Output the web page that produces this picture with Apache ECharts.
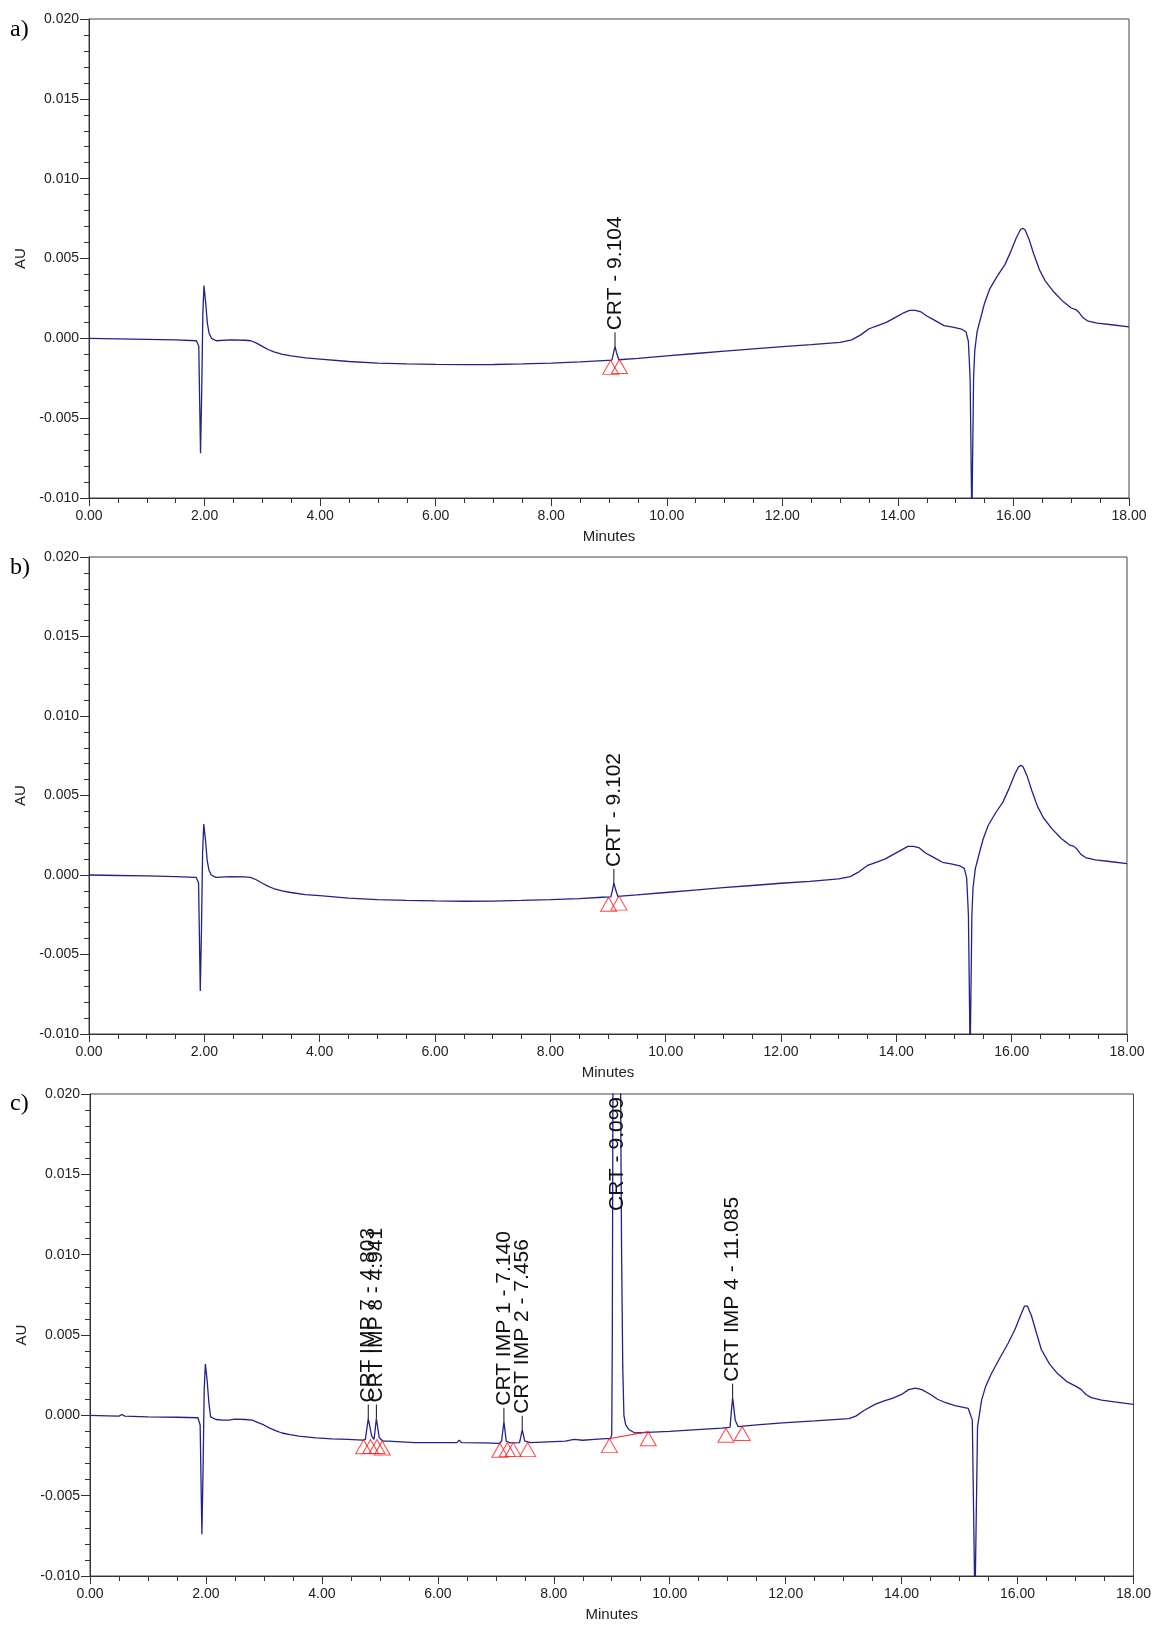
<!DOCTYPE html>
<html><head><meta charset="utf-8">
<script src="https://cdn.jsdelivr.net/npm/echarts@6/dist/echarts.min.js"></script>
<style>html,body{margin:0;padding:0;background:#fff}#chart{width:1154px;height:1626px}</style>
</head><body><div id="chart"></div>
<script>
// ---------- DATA ----------
const panelNames = ['a)', 'b)', 'c)'];

// Panel a trace: [time (min), AU]
const traceA = [
  [0,0],[0.5,-0.00003],[1.0,-0.00006],[1.5,-0.0001],[1.86,-0.00015],[1.90,-0.0005],[1.93,-0.0072],[1.95,-0.0035],
  [1.97,0.0015],[1.99,0.0033],[2.02,0.0022],[2.05,0.0009],[2.08,0.0003],[2.12,0.0],[2.2,-0.00015],[2.45,-0.0001],
  [2.7,-0.00012],[2.8,-0.00015],[2.9,-0.0003],[3.0,-0.0005],[3.1,-0.0007],[3.2,-0.00085],[3.35,-0.001],[3.5,-0.0011],
  [3.75,-0.00123],[4.0,-0.0013],[4.5,-0.00145],[5.0,-0.00155],[5.5,-0.0016],[6.0,-0.00163],[6.5,-0.00165],[7.0,-0.00164],
  [7.5,-0.0016],[8.0,-0.00155],[8.5,-0.00148],[8.9,-0.0014],[9.05,-0.00137],[9.08,-0.0009],[9.104,-0.0005],[9.13,-0.0009],
  [9.17,-0.00134],[9.5,-0.00125],[10.0,-0.0011],[10.5,-0.00095],[11.0,-0.0008],[11.5,-0.00066],[12.0,-0.00052],[12.5,-0.0004],
  [13.0,-0.00025],[13.2,-0.0001],[13.35,0.0002],[13.5,0.0006],[13.65,0.0008],[13.8,0.001],[13.95,0.0013],[14.1,0.0016],
  [14.2,0.00175],[14.3,0.00175],[14.4,0.00165],[14.5,0.0014],[14.6,0.0012],[14.7,0.001],[14.8,0.0008],[14.95,0.0007],
  [15.1,0.00058],[15.18,0.0004],[15.22,-0.0002],[15.25,-0.0025],[15.28,-0.0115],[15.31,-0.0025],[15.33,-0.0008],[15.37,0.0004],
  [15.42,0.0011],[15.5,0.0022],[15.59,0.0031],[15.72,0.0039],[15.85,0.0046],[15.95,0.0054],[16.05,0.0063],[16.12,0.0068],
  [16.16,0.0069],[16.2,0.0068],[16.27,0.0062],[16.35,0.0053],[16.45,0.0043],[16.55,0.0036],[16.7,0.0029],[16.86,0.0023],
  [17.0,0.0019],[17.08,0.0018],[17.14,0.0016],[17.2,0.0013],[17.28,0.0011],[17.45,0.00095],[17.7,0.00085],[18.0,0.00072]
];

// Panel b trace
const traceB = [
  [0,0],[0.5,-0.00003],[1.0,-0.00006],[1.5,-0.0001],[1.86,-0.00015],[1.90,-0.0005],[1.93,-0.0073],[1.95,-0.0035],
  [1.97,0.0014],[1.99,0.0032],[2.02,0.0022],[2.05,0.0009],[2.08,0.0003],[2.12,0.0],[2.2,-0.00015],[2.45,-0.0001],
  [2.7,-0.00012],[2.8,-0.00015],[2.9,-0.0003],[3.0,-0.0005],[3.1,-0.0007],[3.2,-0.00085],[3.35,-0.001],[3.5,-0.0011],
  [3.75,-0.00123],[4.0,-0.0013],[4.5,-0.00145],[5.0,-0.00155],[5.5,-0.0016],[6.0,-0.00163],[6.5,-0.00165],[7.0,-0.00164],
  [7.5,-0.0016],[8.0,-0.00155],[8.5,-0.00148],[8.9,-0.0014],[9.05,-0.00137],[9.08,-0.0009],[9.102,-0.0005],[9.13,-0.0009],
  [9.17,-0.00134],[9.5,-0.00125],[10.0,-0.0011],[10.5,-0.00095],[11.0,-0.0008],[11.5,-0.00066],[12.0,-0.00052],[12.5,-0.0004],
  [13.0,-0.00025],[13.2,-0.0001],[13.35,0.0002],[13.5,0.0006],[13.65,0.0008],[13.8,0.001],[13.95,0.0013],[14.1,0.0016],
  [14.2,0.0018],[14.3,0.0018],[14.4,0.0017],[14.5,0.0014],[14.6,0.0012],[14.7,0.001],[14.8,0.0008],[14.95,0.0007],
  [15.1,0.00058],[15.18,0.0004],[15.22,-0.0002],[15.25,-0.0025],[15.28,-0.0115],[15.31,-0.0025],[15.33,-0.0008],[15.37,0.0004],
  [15.42,0.0011],[15.5,0.0022],[15.59,0.0031],[15.72,0.0039],[15.85,0.0046],[15.95,0.0054],[16.05,0.0063],[16.12,0.0068],
  [16.16,0.0069],[16.2,0.0068],[16.27,0.0062],[16.35,0.0053],[16.45,0.0043],[16.55,0.0036],[16.7,0.0029],[16.86,0.0023],
  [17.0,0.0019],[17.08,0.0018],[17.14,0.0016],[17.2,0.0013],[17.28,0.0011],[17.45,0.00095],[17.7,0.00085],[18.0,0.00072]
];

// Panel c trace
const traceC = [
  [0,0],[0.3,-0.00003],[0.5,-0.00005],[0.55,0.00005],[0.6,-0.00005],[1.0,-0.0001],[1.5,-0.00012],[1.86,-0.00015],
  [1.90,-0.0006],[1.93,-0.0074],[1.95,-0.0035],[1.97,0.0016],[1.99,0.0032],[2.02,0.0022],[2.05,0.0008],[2.08,-0.0001],
  [2.17,-0.00026],[2.3,-0.0003],[2.32,-0.0002],[2.4,-0.0003],[2.5,-0.00024],[2.68,-0.00026],[2.8,-0.0003],[2.9,-0.00045],
  [3.0,-0.0006],[3.1,-0.0008],[3.2,-0.00095],[3.31,-0.0011],[3.45,-0.0012],[3.6,-0.0013],[3.9,-0.0014],[4.17,-0.00146],
  [4.45,-0.0015],[4.70,-0.00154],[4.75,-0.0015],[4.80,-0.0002],[4.86,-0.0013],[4.90,-0.0015],[4.94,-0.0002],[4.99,-0.0014],
  [5.05,-0.0016],[5.14,-0.0016],[5.6,-0.0017],[6.0,-0.0017],[6.33,-0.0017],[6.37,-0.00154],[6.41,-0.0017],[6.8,-0.00172],
  [7.06,-0.00175],[7.10,-0.0016],[7.14,-0.0004],[7.18,-0.0016],[7.25,-0.00172],[7.41,-0.0017],[7.456,-0.0009],[7.50,-0.0016],
  [7.6,-0.0017],[7.9,-0.00165],[8.2,-0.0016],[8.35,-0.0015],[8.5,-0.00155],[8.7,-0.0015],[8.9,-0.00145],[8.98,-0.00145],
  [9.0,-0.0012],[9.01,0.005],[9.02,0.02],[9.05,0.04],[9.10,0.05],[9.13,0.04],[9.15,0.022],[9.17,0.01],
  [9.19,0.003],[9.21,0.0],[9.24,-0.0006],[9.3,-0.0009],[9.4,-0.0011],[9.7,-0.00105],[10.0,-0.001],[10.4,-0.0009],
  [10.9,-0.0008],[11.04,-0.00075],[11.085,0.0011],[11.13,-0.0003],[11.18,-0.0007],[11.5,-0.0006],[11.95,-0.00047],[12.5,-0.00035],
  [13.09,-0.0002],[13.21,-0.00005],[13.35,0.0003],[13.55,0.0007],[13.7,0.0009],[13.84,0.00105],[14.0,0.0013],[14.12,0.0016],
  [14.24,0.0017],[14.35,0.0016],[14.5,0.0013],[14.62,0.001],[14.75,0.0008],[14.92,0.0006],[15.15,0.00043],[15.22,-0.0003],
  [15.265,-0.012],[15.31,-0.0007],[15.38,0.00095],[15.45,0.0018],[15.55,0.0026],[15.7,0.0036],[15.84,0.0045],[15.95,0.0053],
  [16.05,0.0062],[16.12,0.0068],[16.17,0.0068],[16.24,0.0062],[16.32,0.0052],[16.41,0.0041],[16.55,0.0032],[16.69,0.0026],
  [16.85,0.0021],[17.01,0.0018],[17.10,0.0016],[17.18,0.0013],[17.27,0.0011],[17.45,0.00095],[17.67,0.00084],[18.0,0.00068]
];

// Integration markers (red triangles): [time, AU at baseline]
const marksA = [[9.03,-0.00138],[9.18,-0.00133]];
const marksB = [[9.01,-0.0014],[9.19,-0.00133]];
const marksC = [[4.72,-0.00152],[4.84,-0.0015],[4.95,-0.0015],[5.04,-0.0016],[7.07,-0.00174],[7.20,-0.0017],
                [7.30,-0.0017],[7.55,-0.0017],[8.96,-0.00145],[9.63,-0.00102],[10.97,-0.0008],[11.25,-0.0007]];

// Integration baseline of main peak in c
const baselineC = [[8.96,-0.00145],[9.63,-0.00102]];

// Peak labels: [time, apex AU]
const peaksA = [[9.104,-0.0005]];
const peakNameA = ['CRT - 9.104'];
const peaksB = [[9.102,-0.0005]];
const peakNameB = ['CRT - 9.102'];
const peaksC = [[4.80,-0.0002],[4.94,-0.0002],[7.14,-0.0004],[7.456,-0.0009],[9.10,0.05],[11.085,0.0011]];
const peakNameC = ['CRT IMP 7 - 4.803','CRT IMP 8 - 4.941','CRT IMP 1 - 7.140','CRT IMP 2 - 7.456','CRT - 9.099','CRT IMP 4 - 11.085'];

// ---------- CHART ----------
const FONT = '"Liberation Sans", Arial, sans-serif';
const LABEL_SIZE = 21;
const STICK = 14, GAP = 2;
const mctx = document.createElement('canvas').getContext('2d');
function textW(s) { mctx.font = LABEL_SIZE + 'px ' + FONT; return mctx.measureText(s).width; }

function peakRenderer(names) {
  return function (params, api) {
    const p = api.coord([api.value(0), api.value(1)]);
    const top = params.coordSys.y;
    const name = names[params.dataIndex];
    const w = textW(name);
    const children = [];
    let start;
    if (p[1] - STICK - GAP - w < top) {
      start = top + w + 3;
      if (p[1] > start + GAP) {
        children.push({type: 'line', shape: {x1: p[0], y1: p[1], x2: p[0], y2: start + GAP}, style: {stroke: '#111', lineWidth: 1}});
      }
    } else {
      children.push({type: 'line', shape: {x1: p[0], y1: p[1], x2: p[0], y2: p[1] - STICK}, style: {stroke: '#111', lineWidth: 1}});
      start = p[1] - STICK - GAP;
    }
    children.push({type: 'text', x: p[0], y: start, rotation: Math.PI / 2,
      style: {text: name, fill: '#111', fontSize: LABEL_SIZE, fontFamily: FONT, align: 'left', verticalAlign: 'middle'}});
    return {type: 'group', children};
  };
}

const grids = [
  {left: 89, top: 19, width: 1040, height: 479},
  {left: 89, top: 557, width: 1038, height: 477},
  {left: 90, top: 1094, width: 1049, height: 482}
];
const traces = [traceA, traceB, traceC];
const marks = [marksA, marksB, marksC];
const peaks = [peaksA, peaksB, peaksC];
const peakNames = [peakNameA, peakNameB, peakNameC];

const axisColor = '#333';
const option = {
  animation: false,
  backgroundColor: '#fff',
  title: panelNames.map((t, i) => ({
    text: t, left: 10, top: [18, 556, 1092][i], padding: 0,
    textStyle: {fontFamily: '"Liberation Serif", "Times New Roman", serif', fontSize: 24, fontWeight: 'normal', color: '#000'}
  })),
  grid: grids.map(g => Object.assign({show: true, borderColor: '#444', borderWidth: 1, backgroundColor: 'transparent'}, g)),
  xAxis: grids.map((g, i) => ({
    type: 'value', gridIndex: i, min: 0, max: 18, interval: 2,
    axisLine: {show: true, onZero: false, lineStyle: {color: axisColor, width: 1}},
    axisTick: {show: true, length: 8, lineStyle: {color: axisColor}},
    minorTick: {show: true, splitNumber: 4, length: 5, lineStyle: {color: axisColor}},
    splitLine: {show: false},
    axisLabel: {formatter: v => v.toFixed(2), fontSize: 14, color: '#222', margin: 11, fontFamily: FONT},
    name: 'Minutes', nameLocation: 'middle', nameGap: 31,
    nameTextStyle: {fontSize: 15, color: '#222', fontFamily: FONT}
  })),
  yAxis: grids.map((g, i) => ({
    type: 'value', gridIndex: i, min: -0.01, max: 0.02, interval: 0.005,
    axisLine: {show: true, onZero: false, lineStyle: {color: axisColor, width: 1}},
    axisTick: {show: true, length: 9, lineStyle: {color: axisColor}},
    minorTick: {show: true, splitNumber: 5, length: 5, lineStyle: {color: axisColor}},
    splitLine: {show: false},
    axisLabel: {formatter: v => v.toFixed(3), fontSize: 14, color: '#222', margin: 10, fontFamily: FONT},
    name: 'AU', nameLocation: 'middle', nameRotate: 90, nameGap: 60,
    nameTextStyle: {fontSize: 15, color: '#222', fontFamily: FONT}
  })),
  series: []
};

for (let i = 0; i < 3; i++) {
  option.series.push({
    type: 'line', xAxisIndex: i, yAxisIndex: i, data: traces[i], showSymbol: false, symbol: 'none',
    clip: true, lineStyle: {color: '#22228a', width: 1.3}, z: 3
  });
  option.series.push({
    type: 'scatter', xAxisIndex: i, yAxisIndex: i, data: marks[i], symbol: 'triangle',
    symbolSize: [16, 14], symbolOffset: [0, 7],
    itemStyle: {color: 'rgba(255,255,255,0)', borderColor: '#ff1a1a', borderWidth: 1}, z: 4
  });
  option.series.push({
    type: 'custom', xAxisIndex: i, yAxisIndex: i, coordinateSystem: 'cartesian2d',
    data: peaks[i], renderItem: peakRenderer(peakNames[i]), clip: false, z: 5,
    encode: {x: 0, y: 1}
  });
}
option.series.push({
  type: 'line', xAxisIndex: 2, yAxisIndex: 2, data: baselineC, showSymbol: false, symbol: 'none',
  lineStyle: {color: '#ff1a1a', width: 1}, z: 4
});

const chart = echarts.init(document.getElementById('chart'), null, {renderer: 'canvas'});
chart.setOption(option);
</script></body></html>
